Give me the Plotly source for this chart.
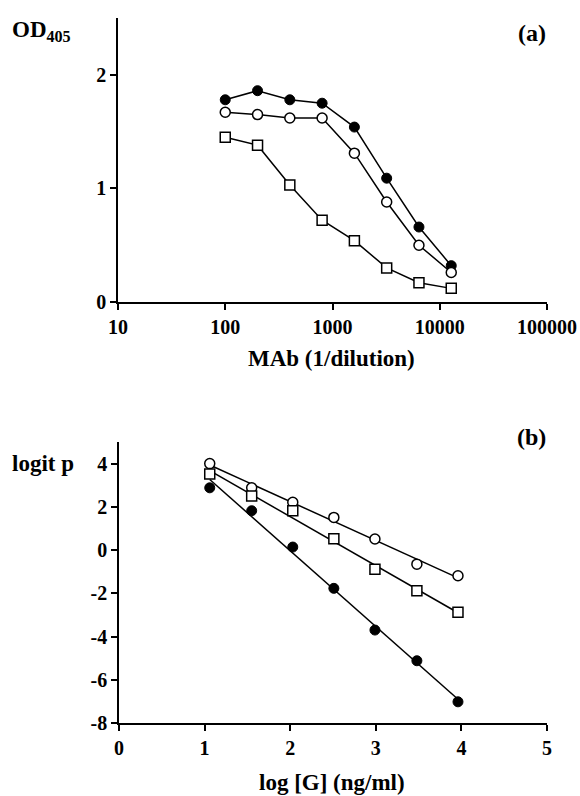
import numpy as np
import plotly.graph_objects as go

# ---- Panel (a) data ----
mab_dilution = [100, 200, 400, 800, 1600, 3200, 6400, 12800]
od_filled = [1.78, 1.86, 1.78, 1.75, 1.54, 1.09, 0.66, 0.32]
od_open = [1.67, 1.65, 1.62, 1.62, 1.31, 0.88, 0.50, 0.26]
od_square = [1.45, 1.38, 1.03, 0.72, 0.54, 0.30, 0.17, 0.12]
xa_ticks = [10, 100, 1000, 10000, 100000]
xa_ticklabels = ["10", "100", "1000", "10000", "100000"]
ya_ticks = [0, 1, 2]

# ---- Panel (b) data ----
log_g = [1.06, 1.55, 2.03, 2.51, 2.99, 3.48, 3.96]
logit_open = [4.00, 2.88, 2.21, 1.51, 0.51, -0.65, -1.19]
logit_square = [3.52, 2.50, 1.82, 0.52, -0.89, -1.88, -2.88]
logit_filled = [2.88, 1.82, 0.14, -1.77, -3.70, -5.12, -7.02]
xb_ticks = [0, 1, 2, 3, 4, 5]
yb_ticks = [-8, -6, -4, -2, 0, 2, 4]
yb_ticklabels = ["-8", "-6", "-4", "-2", "0", "2", "4"]

FONT = "Liberation Serif"
W, H = 580, 796

def px_x(p):
    return p / W

def px_y(p):
    return 1 - p / H

fig = go.Figure()

filled_m = dict(symbol="circle", size=10, color="black", line=dict(color="black", width=1))
open_m = dict(symbol="circle", size=10, color="white", line=dict(color="black", width=1.5))
sq_m = dict(symbol="square", size=10, color="white", line=dict(color="black", width=1.5))
line_s = dict(color="black", width=1.5)

for y, m in [(od_filled, filled_m), (od_open, open_m), (od_square, sq_m)]:
    fig.add_trace(go.Scatter(x=mab_dilution, y=y, mode="lines+markers", marker=m,
                             line=line_s, xaxis="x", yaxis="y", showlegend=False,
                             cliponaxis=False))

# regression lines panel (b)
xs = np.array(log_g)
for y in [logit_open, logit_square, logit_filled]:
    k, b = np.polyfit(xs, np.array(y), 1)
    xe = np.array([xs[0], xs[-1]])
    fig.add_trace(go.Scatter(x=xe, y=k * xe + b, mode="lines", line=line_s,
                             xaxis="x2", yaxis="y2", showlegend=False, hoverinfo="skip"))
for y, m in [(logit_open, open_m), (logit_square, sq_m), (logit_filled, filled_m)]:
    fig.add_trace(go.Scatter(x=log_g, y=y, mode="markers", marker=m,
                             xaxis="x2", yaxis="y2", showlegend=False, cliponaxis=False))

tickf = dict(family=FONT, size=20, color="black", weight="bold")
axcommon = dict(showline=True, linecolor="black", linewidth=1.5, ticks="outside",
                ticklen=6, tickwidth=1.5, tickcolor="black", showgrid=False,
                zeroline=False, mirror=False, tickfont=tickf, automargin=False)

fig.update_layout(
    width=W, height=H,
    margin=dict(l=0, r=0, t=0, b=0, autoexpand=False),
    paper_bgcolor="white", plot_bgcolor="white",
    xaxis=dict(type="log", range=[1, 5], tickvals=xa_ticks, ticktext=xa_ticklabels,
               domain=[px_x(118), px_x(547)], anchor="y", **axcommon),
    yaxis=dict(range=[0, 2.5], tickvals=ya_ticks,
               domain=[px_y(302), px_y(18)], anchor="x", **axcommon),
    xaxis2=dict(range=[0, 5], tickvals=xb_ticks,
                domain=[px_x(119), px_x(547)], anchor="y2", **axcommon),
    yaxis2=dict(range=[-8, 5], tickvals=yb_ticks, ticktext=yb_ticklabels,
                domain=[px_y(723), px_y(442)], anchor="x2", **axcommon),
)

def ann(text, x, y, xanchor, size):
    fig.add_annotation(text=text, x=px_x(x), y=px_y(y), xref="paper", yref="paper",
                       xanchor=xanchor, yanchor="middle", showarrow=False,
                       font=dict(family=FONT, size=size, color="black", weight="bold"))

ann("OD<sub>405</sub>", 10, 31, "left", 23)
ann("(a)", 548, 33, "right", 24)
ann("MAb (1/dilution)", 331, 358, "center", 23)
ann("logit p", 10, 463, "left", 23)
ann("(b)", 548, 437, "right", 24)
ann("log [G] (ng/ml)", 332, 782, "center", 23)

fig.write_html("out.html", config={"displayModeBar": False},
               post_script="document.body.style.margin='0';document.body.style.overflow='hidden';")
